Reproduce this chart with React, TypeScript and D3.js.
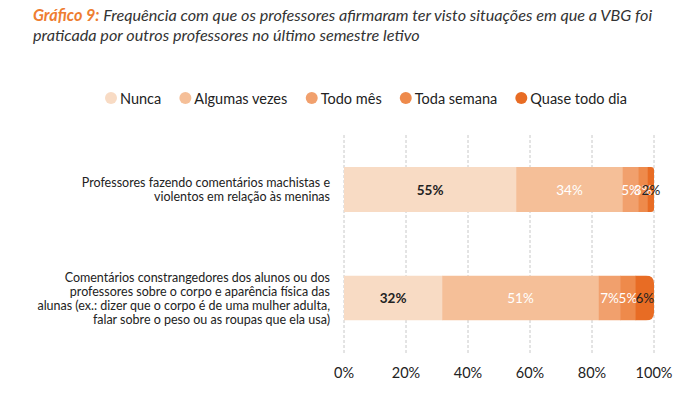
import * as d3 from 'd3';

// ── Layout ────────────────────────────────────────────────────────────────────
const VW = 691;
const VH = 394;
const X0 = 344;
const X1 = 654;
const GRID_TOP = 135;
const GRID_BOTTOM = 355;

// ── Data ──────────────────────────────────────────────────────────────────────
const SERIES = ['Nunca', 'Algumas vezes', 'Todo mês', 'Toda semana', 'Quase todo dia'];
const COLORS = ['#f8dbc4', '#f5bf98', '#f1a06d', '#ee8a4b', '#e86c24'];
const CATEGORIES = [
  ['Professores fazendo comentários machistas e', 'violentos em relação às meninas'],
  [
    'Comentários constrangedores dos alunos ou dos',
    'professores sobre o corpo e aparência física das',
    'alunas (ex.: dizer que o corpo é de uma mulher adulta,',
    'falar sobre o peso ou as roupas que ela usa)',
  ],
];
const VALUES = [
  [55, 34, 5, 3, 2],
  [32, 51, 7, 5, 6],
];
const TICKS = [0, 20, 40, 60, 80, 100];

// Bar vertical placement and right-end rounding
const BAR_CENTERS = [189.5, 298];
const BAR_H = 45;
const BAR_R = [3, 8];

const FONT = 'Lato, "Open Sans", sans-serif';
const DARK = '#222';
const LEGEND_FS = 14.5;
const LEGEND_LEFT = 105;
const LEGEND_RIGHT = 627;

function measure(text: string, size: number): number {
  const ctx = document.createElement('canvas').getContext('2d');
  if (!ctx) return text.length * size * 0.5;
  ctx.font = `${size}px Lato`;
  return ctx.measureText(text).width;
}

export default function App() {
  const x = d3.scaleLinear().domain([0, 100]).range([X0, X1]);

  // legend: spread items so they fill the same span as the reference
  const widths = SERIES.map(s => measure(s, LEGEND_FS));
  const itemW = widths.map(w => 12 + 3 + w);
  const gap = (LEGEND_RIGHT - LEGEND_LEFT - d3.sum(itemW)) / (SERIES.length - 1);
  let lx = LEGEND_LEFT;
  const legendX = itemW.map(w => {
    const p = lx;
    lx += w + gap;
    return p;
  });

  return (
    <svg
      width={VW}
      height={VH}
      viewBox={`0 0 ${VW} ${VH}`}
      style={{ position: 'absolute', left: 0, top: 0, background: '#fff' }}
      fontFamily={FONT}
    >
      {/* Title */}
      <text x={33} y={21} fontSize={16.2} fontStyle="italic" fill="#333">
        <tspan fill="#ee7d31" fontWeight={700}>Gráfico 9:</tspan>
        <tspan> Frequência com que os professores afirmaram ter visto situações em que a VBG foi</tspan>
      </text>
      <text x={33} y={41} fontSize={16.2} fontStyle="italic" fill="#333">
        praticada por outros professores no último semestre letivo
      </text>

      {/* Legend */}
      {SERIES.map((s, i) => (
        <g key={s} transform={`translate(${legendX[i]},98)`}>
          <circle cx={6} cy={0} r={6} fill={COLORS[i]} />
          <text x={15} y={0} dominantBaseline="central" fontSize={LEGEND_FS} fill={DARK}>{s}</text>
        </g>
      ))}

      {/* Gridlines */}
      {TICKS.map(t => (
        <line
          key={t}
          x1={x(t)} x2={x(t)} y1={GRID_TOP} y2={GRID_BOTTOM}
          stroke="#c8c8c8" strokeWidth={1} strokeDasharray="3,2"
        />
      ))}

      {/* Bars */}
      {VALUES.map((vals, bi) => {
        const total = d3.sum(vals);
        const cy = BAR_CENTERS[bi];
        const y0 = cy - BAR_H / 2;
        const r = BAR_R[bi];
        const xEnd = x(100);
        const clipId = `clip-${bi}`;
        const clipPath = `M${X0},${y0} H${xEnd - r} Q${xEnd},${y0} ${xEnd},${y0 + r} V${y0 + BAR_H - r} Q${xEnd},${y0 + BAR_H} ${xEnd - r},${y0 + BAR_H} H${X0} Z`;
        let acc = 0;
        const segs = vals.map((v, si) => {
          const a = (acc / total) * 100;
          acc += v;
          const b = (acc / total) * 100;
          return { v, si, a, b };
        });
        return (
          <g key={bi}>
            <defs>
              <clipPath id={clipId}><path d={clipPath} /></clipPath>
            </defs>
            <g clipPath={`url(#${clipId})`}>
              {segs.map(s => (
                <rect key={s.si} x={x(s.a)} y={y0} width={x(s.b) - x(s.a) + 0.5} height={BAR_H} fill={COLORS[s.si]} />
              ))}
            </g>
            {segs.map(s => (
              <text
                key={s.si}
                x={(x(s.a) + x(s.b)) / 2}
                y={cy}
                textAnchor="middle"
                dominantBaseline="central"
                fontSize={13.5}
                fontWeight={s.si === 0 ? 700 : 400}
                fill={s.si === 0 || s.si === SERIES.length - 1 ? DARK : '#fff'}
              >
                {s.v}%
              </text>
            ))}
            {/* Category label */}
            {CATEGORIES[bi].map((line, li) => (
              <text
                key={li}
                x={330}
                y={cy + (li - (CATEGORIES[bi].length - 1) / 2) * 14}
                textAnchor="end"
                dominantBaseline="central"
                fontSize={12.5}
                fill={DARK}
              >
                {line}
              </text>
            ))}
          </g>
        );
      })}

      {/* X axis labels */}
      {TICKS.map(t => (
        <text key={t} x={x(t)} y={372} textAnchor="middle" dominantBaseline="central" fontSize={14.5} fill={DARK}>
          {t}%
        </text>
      ))}
    </svg>
  );
}
